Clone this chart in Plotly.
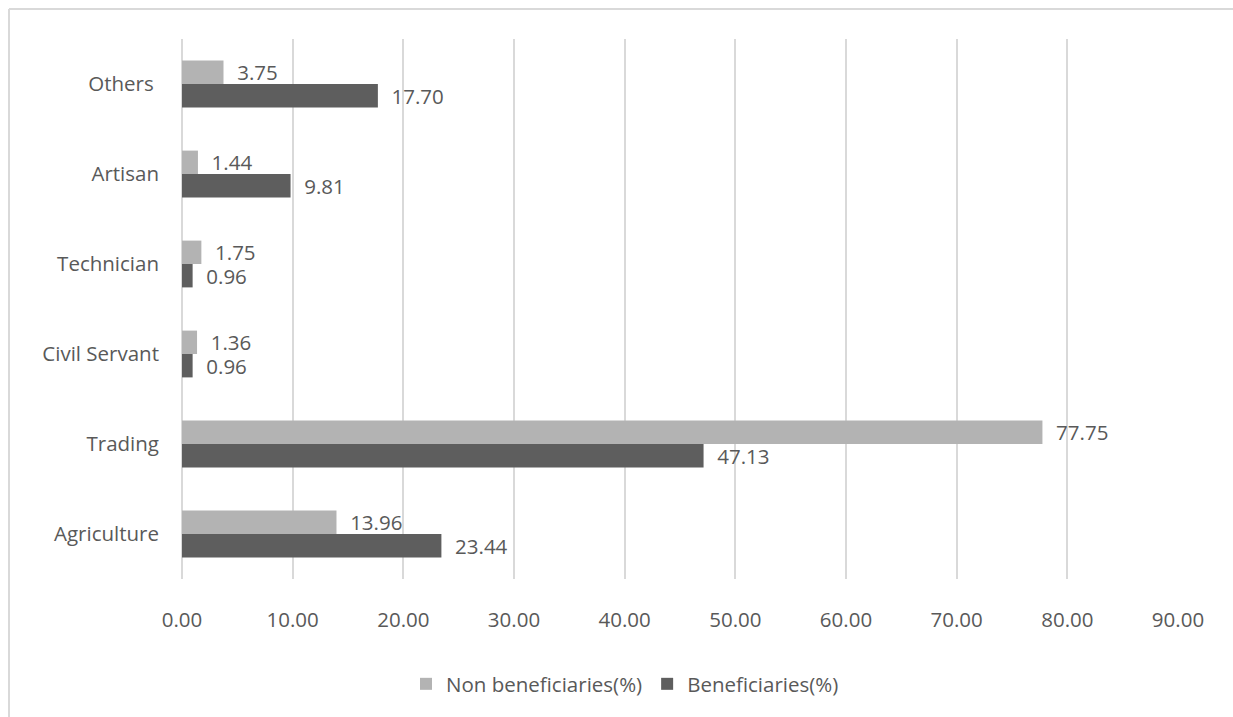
import plotly.graph_objects as go

# Occupation categories, listed bottom to top on the vertical axis
categories = ["Agriculture", "Trading", "Civil Servant", "Technician", "Artisan", "Others "]

# Share of respondents per occupation (%)
non_beneficiaries = [13.96, 77.75, 1.36, 1.75, 1.44, 3.75]
beneficiaries = [23.44, 47.13, 0.96, 0.96, 9.81, 17.70]

x_ticks = [0, 10, 20, 30, 40, 50, 60, 70, 80, 90]

TEXT = "#595959"
GRID = "#D9D9D9"
FONT = "Open Sans"
PAD = "\u00a0\u00a0"  # small gap between bar end and its value label

W, H = 1233, 717
L, R, T, B = 182, 55, 39, 138

fig = go.Figure()

# Beneficiaries first so that it sits in the lower slot of each group
fig.add_trace(go.Bar(
    y=categories, x=beneficiaries, orientation="h",
    name="Beneficiaries(%)", marker=dict(color="#5E5E5E", line=dict(width=0)),
    text=[PAD + f"{v:.2f}" for v in beneficiaries], textposition="outside",
    textfont=dict(family=FONT, size=20.5, color=TEXT),
    cliponaxis=False, legendrank=2, hoverinfo="skip",
))
fig.add_trace(go.Bar(
    y=categories, x=non_beneficiaries, orientation="h",
    name="Non beneficiaries(%)", marker=dict(color="#B3B3B3", line=dict(width=0)),
    text=[PAD + f"{v:.2f}" for v in non_beneficiaries], textposition="outside",
    textfont=dict(family=FONT, size=20.5, color=TEXT),
    cliponaxis=False, legendrank=1, hoverinfo="skip",
))

# Light chart-area border (top and left edges)
px = lambda v: (v - L) / (W - L - R)
py = lambda v: (H - B - v) / (H - T - B)
border = dict(color=GRID, width=2)
fig.add_shape(type="line", xref="paper", yref="paper",
              x0=px(9), x1=px(W + 5), y0=py(9), y1=py(9), line=border)
fig.add_shape(type="line", xref="paper", yref="paper",
              x0=px(9), x1=px(9), y0=py(9), y1=py(H + 5), line=border)

fig.update_layout(
    width=W, height=H,
    margin=dict(l=L, r=R, t=T, b=B),
    paper_bgcolor="white", plot_bgcolor="white",
    barmode="group", bargap=0.48, bargroupgap=0,
    uniformtext=dict(mode=False),
    font=dict(family=FONT, size=20.5, color=TEXT),
    showlegend=True,
    legend=dict(
        orientation="h", x=px(625), xanchor="center",
        y=py(684), yanchor="middle",
        font=dict(family=FONT, size=20.5, color=TEXT),
        traceorder="normal",
    ),
    xaxis=dict(
        range=[0, 90], tickvals=x_ticks,
        ticktext=[f"{v:.2f}" for v in x_ticks],
        showgrid=True, gridcolor=GRID, gridwidth=1.5,
        zeroline=True, zerolinecolor=GRID, zerolinewidth=1.5,
        showline=False, ticks="", ticklabelstandoff=26,
        tickfont=dict(family=FONT, size=20.5, color=TEXT),
        fixedrange=True,
    ),
    yaxis=dict(
        type="category", categoryorder="array", categoryarray=categories,
        showgrid=False, zeroline=False, showline=False, ticks="",
        ticklabelstandoff=22,
        tickfont=dict(family=FONT, size=20.5, color=TEXT),
        fixedrange=True,
    ),
)
fig.update_traces(constraintext="none")

fig.write_html("out.html")
